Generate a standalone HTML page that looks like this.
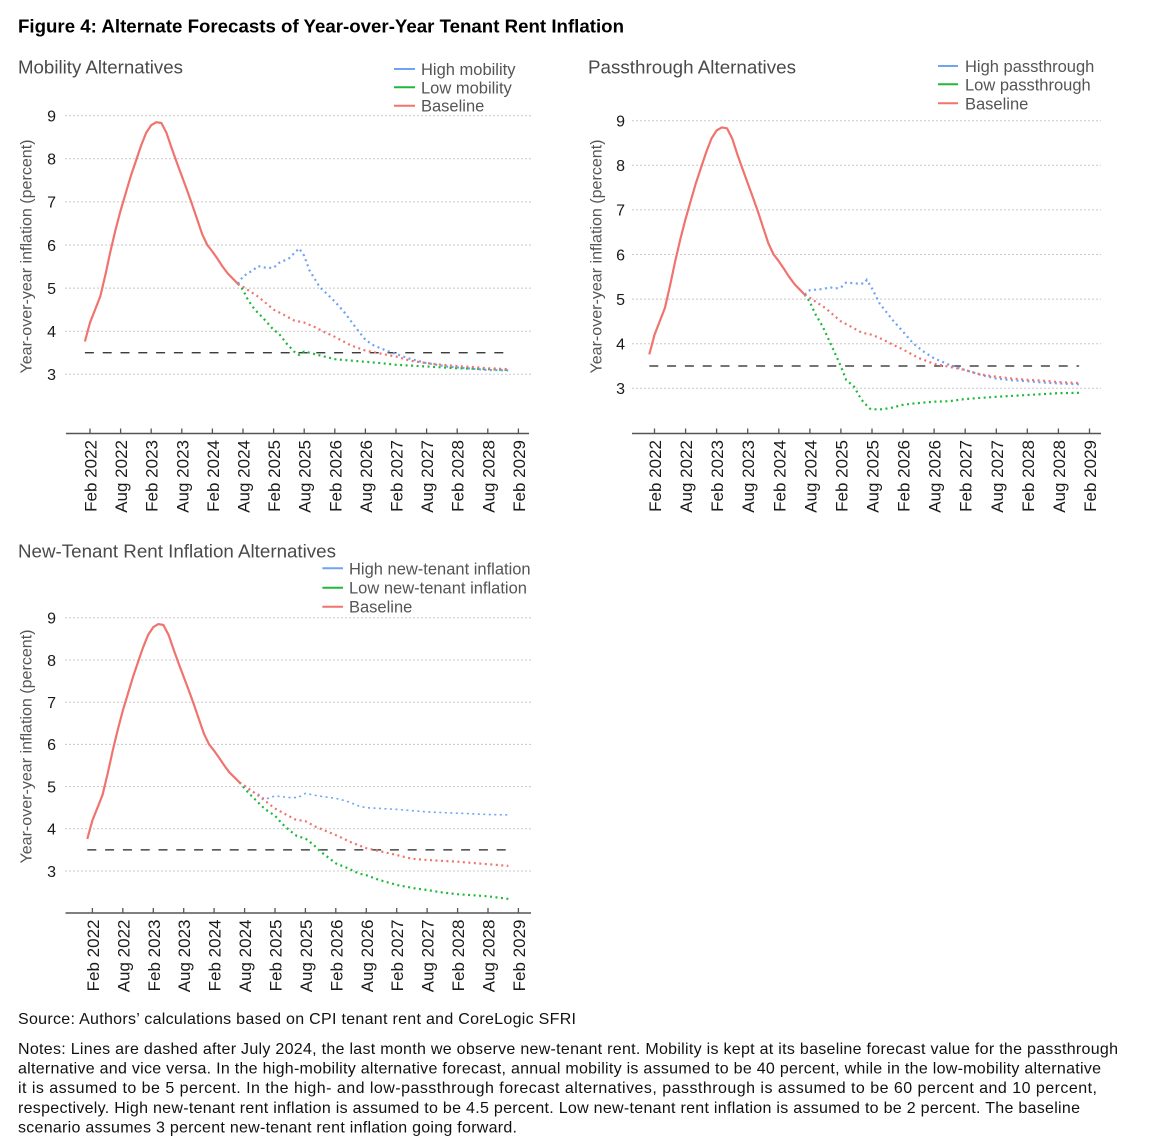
<!DOCTYPE html>
<html>
<head>
<meta charset="utf-8">
<style>
html,body{margin:0;padding:0;background:#fff;}
svg{display:block;}
text{font-family:"Liberation Sans",Arial,sans-serif;}
.tk{font-size:16px;fill:#1a1a1a;}
.xl{font-size:17px;fill:#1a1a1a;}
.yt{font-size:16px;fill:#555;}
.st{font-size:18px;fill:#4a4a4a;}
.lg{font-size:16.5px;fill:#555;}
.nt{font-size:16px;fill:#111;}
.grid{stroke:#c8c8c8;stroke-width:1;stroke-dasharray:2 2;}
.axis{stroke:#555;stroke-width:1.5;}
.tick{stroke:#555;stroke-width:1.3;}
.ref{stroke:#222;stroke-width:1.2;stroke-dasharray:9 8.8;fill:none;}
.hist{fill:none;stroke:#F0736E;stroke-width:2.2;stroke-linejoin:round;}
.fr{fill:none;stroke:#F0736E;stroke-width:2.2;stroke-dasharray:2 3.5;}
.fb{fill:none;stroke:#6FA3F5;stroke-width:2.2;stroke-dasharray:2 3.5;}
.fg{fill:none;stroke:#1FB83B;stroke-width:2.2;stroke-dasharray:2 3.5;}
.fbt{fill:none;stroke:#6FA3F5;stroke-width:1.6;stroke-dasharray:2 3.5;}
</style>
</head>
<body>
<svg width="1151" height="1144" viewBox="0 0 1151 1144" xmlns="http://www.w3.org/2000/svg">
<rect width="1151" height="1144" fill="#fff"/>

<text x="18" y="32.5" font-size="18" font-weight="bold" fill="#000" textLength="606" lengthAdjust="spacingAndGlyphs">Figure 4: Alternate Forecasts of Year-over-Year Tenant Rent Inflation</text>

<!-- ================= CHART A ================= -->
<text class="st" x="18" y="73.5" textLength="165" lengthAdjust="spacingAndGlyphs">Mobility Alternatives</text>
<line x1="394" y1="69" x2="415" y2="69" stroke="#6FA3F5" stroke-width="2"/>
<line x1="394" y1="87.3" x2="415" y2="87.3" stroke="#1FB83B" stroke-width="2"/>
<line x1="394" y1="105.7" x2="415" y2="105.7" stroke="#F0736E" stroke-width="2"/>
<text class="lg" x="421" y="75">High mobility</text>
<text class="lg" x="421" y="93.3">Low mobility</text>
<text class="lg" x="421" y="111.7">Baseline</text>

<g>
<line class="grid" x1="65" y1="115.7" x2="531" y2="115.7"/>
<line class="grid" x1="65" y1="158.8" x2="531" y2="158.8"/>
<line class="grid" x1="65" y1="201.9" x2="531" y2="201.9"/>
<line class="grid" x1="65" y1="245" x2="531" y2="245"/>
<line class="grid" x1="65" y1="288.1" x2="531" y2="288.1"/>
<line class="grid" x1="65" y1="331.2" x2="531" y2="331.2"/>
<line class="grid" x1="65" y1="374.3" x2="531" y2="374.3"/>
</g>
<g class="tk" text-anchor="end">
<text x="56" y="121.5">9</text><text x="56" y="164.6">8</text><text x="56" y="207.7">7</text><text x="56" y="250.8">6</text><text x="56" y="293.9">5</text><text x="56" y="337">4</text><text x="56" y="380.1">3</text>
</g>
<text class="yt" transform="translate(31.5,256.5) rotate(-90)" text-anchor="middle" textLength="234" lengthAdjust="spacingAndGlyphs">Year-over-year inflation (percent)</text>

<line class="axis" x1="66" y1="433.5" x2="529" y2="433.5"/>
<g class="tick">
<line x1="90" y1="428.5" x2="90" y2="433.5"/><line x1="120.6" y1="428.5" x2="120.6" y2="433.5"/><line x1="151.2" y1="428.5" x2="151.2" y2="433.5"/><line x1="181.8" y1="428.5" x2="181.8" y2="433.5"/><line x1="212.4" y1="428.5" x2="212.4" y2="433.5"/><line x1="243" y1="428.5" x2="243" y2="433.5"/><line x1="273.6" y1="428.5" x2="273.6" y2="433.5"/><line x1="304.2" y1="428.5" x2="304.2" y2="433.5"/><line x1="334.8" y1="428.5" x2="334.8" y2="433.5"/><line x1="365.4" y1="428.5" x2="365.4" y2="433.5"/><line x1="396" y1="428.5" x2="396" y2="433.5"/><line x1="426.6" y1="428.5" x2="426.6" y2="433.5"/><line x1="457.2" y1="428.5" x2="457.2" y2="433.5"/><line x1="487.8" y1="428.5" x2="487.8" y2="433.5"/><line x1="518.4" y1="428.5" x2="518.4" y2="433.5"/>
</g>
<g class="xl" text-anchor="end">
<text transform="translate(96.5,440) rotate(-90)">Feb 2022</text>
<text transform="translate(127.1,440) rotate(-90)">Aug 2022</text>
<text transform="translate(157.7,440) rotate(-90)">Feb 2023</text>
<text transform="translate(188.3,440) rotate(-90)">Aug 2023</text>
<text transform="translate(218.9,440) rotate(-90)">Feb 2024</text>
<text transform="translate(249.5,440) rotate(-90)">Aug 2024</text>
<text transform="translate(280.1,440) rotate(-90)">Feb 2025</text>
<text transform="translate(310.7,440) rotate(-90)">Aug 2025</text>
<text transform="translate(341.3,440) rotate(-90)">Feb 2026</text>
<text transform="translate(371.9,440) rotate(-90)">Aug 2026</text>
<text transform="translate(402.5,440) rotate(-90)">Feb 2027</text>
<text transform="translate(433.1,440) rotate(-90)">Aug 2027</text>
<text transform="translate(463.7,440) rotate(-90)">Feb 2028</text>
<text transform="translate(494.3,440) rotate(-90)">Aug 2028</text>
<text transform="translate(524.9,440) rotate(-90)">Feb 2029</text>
</g>

<line class="ref" x1="84.9" y1="352.75" x2="508.2" y2="352.75"/>
<polyline class="hist" points="84.9,341.5 90,322.6 95.1,309.6 100.2,296.7 105.3,275.2 110.4,251.5 115.5,229.9 120.6,210.5 125.7,193.3 130.8,176 135.9,161 141,145.9 146.1,132.9 151.2,125.2 156.3,122.2 161.4,123 166.5,132.9 171.6,148 176.7,162.3 181.8,176 186.9,189.8 192,204.1 197.1,219.1 202.2,234.2 207.3,245 212.4,251.5 217.5,258.8 222.6,266.6 227.7,273.4 232.8,278.6 237.9,283.8"/>
<polyline class="fb" points="237.9,283.8 243,276.5 253.2,270 258.3,266.1 265.9,267.8 273.6,267.8 278.7,263.1 288.9,258.4 299.1,248.4 304.2,255.8 309.3,270 319.5,286.8 334.8,301.5 345,313.1 355.2,326.9 365.4,339.8 373,345 380.7,348.4 396,354 411.3,359.2 426.6,363.1 447,366.5 467.4,368.3 487.8,370 508.2,370.4"/>
<polyline class="fg" points="237.9,283.8 243,289.8 248.1,300.2 255.2,310.1 263.4,318.3 273.6,329.9 278.7,333.4 286.4,343.3 294,351.5 299.1,354.9 304.2,351.5 314.4,354 324.6,356.6 334.8,359.2 345,360.1 365.4,361.8 380.7,363.1 396,364.8 426.6,366.5 457.2,368.3 487.8,369.1 508.2,370"/>
<polyline class="fr" points="237.9,283.8 243,286.8 258.3,296.7 273.6,309.6 283.8,314.8 294,320.4 304.2,322.6 314.4,326.9 324.6,332.1 334.8,336.8 350.1,345 365.4,350.6 380.7,353.6 396,356.6 411.3,360.9 426.6,363.1 441.9,364.8 457.2,366.1 472.5,367 487.8,368.3 508.2,369.1"/>

<!-- ================= CHART B ================= -->
<text class="st" x="588" y="73.5" textLength="208" lengthAdjust="spacingAndGlyphs">Passthrough Alternatives</text>
<line x1="938" y1="66" x2="958" y2="66" stroke="#6FA3F5" stroke-width="2"/>
<line x1="938" y1="84.3" x2="958" y2="84.3" stroke="#1FB83B" stroke-width="2"/>
<line x1="938" y1="103.3" x2="958" y2="103.3" stroke="#F0736E" stroke-width="2"/>
<text class="lg" x="965" y="72">High passthrough</text>
<text class="lg" x="965" y="90.3">Low passthrough</text>
<text class="lg" x="965" y="109.3">Baseline</text>

<g>
<line class="grid" x1="632" y1="120.7" x2="1101" y2="120.7"/>
<line class="grid" x1="632" y1="165.3" x2="1101" y2="165.3"/>
<line class="grid" x1="632" y1="209.9" x2="1101" y2="209.9"/>
<line class="grid" x1="632" y1="254.5" x2="1101" y2="254.5"/>
<line class="grid" x1="632" y1="299.1" x2="1101" y2="299.1"/>
<line class="grid" x1="632" y1="343.7" x2="1101" y2="343.7"/>
<line class="grid" x1="632" y1="388.3" x2="1101" y2="388.3"/>
</g>
<g class="tk" text-anchor="end">
<text x="625" y="126.5">9</text><text x="625" y="171.1">8</text><text x="625" y="215.7">7</text><text x="625" y="260.3">6</text><text x="625" y="304.9">5</text><text x="625" y="349.5">4</text><text x="625" y="394.1">3</text>
</g>
<text class="yt" transform="translate(601.5,256.5) rotate(-90)" text-anchor="middle" textLength="234" lengthAdjust="spacingAndGlyphs">Year-over-year inflation (percent)</text>

<line class="axis" x1="632" y1="433.5" x2="1101" y2="433.5"/>
<g class="tick">
<line x1="654.5" y1="428.5" x2="654.5" y2="433.5"/><line x1="685.6" y1="428.5" x2="685.6" y2="433.5"/><line x1="716.6" y1="428.5" x2="716.6" y2="433.5"/><line x1="747.7" y1="428.5" x2="747.7" y2="433.5"/><line x1="778.8" y1="428.5" x2="778.8" y2="433.5"/><line x1="809.9" y1="428.5" x2="809.9" y2="433.5"/><line x1="840.9" y1="428.5" x2="840.9" y2="433.5"/><line x1="872" y1="428.5" x2="872" y2="433.5"/><line x1="903.1" y1="428.5" x2="903.1" y2="433.5"/><line x1="934.1" y1="428.5" x2="934.1" y2="433.5"/><line x1="965.2" y1="428.5" x2="965.2" y2="433.5"/><line x1="996.3" y1="428.5" x2="996.3" y2="433.5"/><line x1="1027.3" y1="428.5" x2="1027.3" y2="433.5"/><line x1="1058.4" y1="428.5" x2="1058.4" y2="433.5"/><line x1="1089.5" y1="428.5" x2="1089.5" y2="433.5"/>
</g>
<g class="xl" text-anchor="end">
<text transform="translate(661,440) rotate(-90)">Feb 2022</text>
<text transform="translate(692.1,440) rotate(-90)">Aug 2022</text>
<text transform="translate(723.1,440) rotate(-90)">Feb 2023</text>
<text transform="translate(754.2,440) rotate(-90)">Aug 2023</text>
<text transform="translate(785.3,440) rotate(-90)">Feb 2024</text>
<text transform="translate(816.4,440) rotate(-90)">Aug 2024</text>
<text transform="translate(847.4,440) rotate(-90)">Feb 2025</text>
<text transform="translate(878.5,440) rotate(-90)">Aug 2025</text>
<text transform="translate(909.6,440) rotate(-90)">Feb 2026</text>
<text transform="translate(940.6,440) rotate(-90)">Aug 2026</text>
<text transform="translate(971.7,440) rotate(-90)">Feb 2027</text>
<text transform="translate(1002.8,440) rotate(-90)">Aug 2027</text>
<text transform="translate(1033.8,440) rotate(-90)">Feb 2028</text>
<text transform="translate(1064.9,440) rotate(-90)">Aug 2028</text>
<text transform="translate(1096,440) rotate(-90)">Feb 2029</text>
</g>

<line class="ref" x1="649.3" y1="366" x2="1079.1" y2="366"/>
<polyline class="hist" points="649.3,354.4 654.5,334.8 659.7,321.4 664.9,308 670,285.7 675.2,261.2 680.4,238.9 685.6,218.8 690.7,201 695.9,183.1 701.1,167.5 706.3,151.9 711.5,138.5 716.6,130.5 721.8,127.4 727,128.3 732.2,138.5 737.3,154.2 742.5,168.9 747.7,183.1 752.9,197.4 758.1,212.1 763.2,227.7 768.4,243.4 773.6,254.5 778.8,261.2 783.9,268.8 789.1,276.8 794.3,283.9 799.5,289.3 804.7,294.6"/>
<polyline class="fb" points="804.7,294.6 809.8,290.2 820.2,289.3 830.6,287.5 835.7,288.4 840.9,287.5 846.1,282.6 856.4,283.5 864.2,283.5 866.8,279.9 872,288.4 879.7,303.6 892.7,320.1 903,331.7 913.4,343.7 923.8,351.7 934.1,358.4 941.9,361.5 949.6,365.1 965.2,370 980.7,374.9 996.2,378.5 1011.8,380.3 1027.3,381.2 1042.9,382.5 1058.4,383.4 1079.1,384.3"/>
<polyline class="fg" points="804.7,294.6 809.8,301.8 815,313.4 822.8,326.8 830.6,343.7 840.9,366.4 846.1,379.8 853.9,386.5 861.6,399.9 869.4,408.4 872,409.3 882.3,409.3 892.7,407.5 903,404.8 913.4,403.5 934.1,401.7 949.6,401.2 965.2,399 996.2,396.8 1027.3,395 1058.4,393.2 1079.1,392.8"/>
<polyline class="fr" points="804.7,294.6 809.8,297.8 825.4,308 840.9,321.4 851.3,326.8 861.6,332.6 872,334.8 882.3,339.2 892.7,344.6 903,349.5 918.6,358 934.1,363.8 949.6,366.9 965.2,370 980.7,374.5 996.2,376.7 1011.8,378.5 1027.3,379.8 1042.9,380.7 1058.4,382.1 1079.1,383"/>

<!-- ================= CHART C ================= -->
<text class="st" x="18" y="557.5" textLength="318" lengthAdjust="spacingAndGlyphs">New-Tenant Rent Inflation Alternatives</text>
<line x1="322.4" y1="568.3" x2="343" y2="568.3" stroke="#6FA3F5" stroke-width="2"/>
<line x1="322.4" y1="587.7" x2="343" y2="587.7" stroke="#1FB83B" stroke-width="2"/>
<line x1="322.4" y1="606.7" x2="343" y2="606.7" stroke="#F0736E" stroke-width="2"/>
<text class="lg" x="349" y="574.3">High new-tenant inflation</text>
<text class="lg" x="349" y="593.7">Low new-tenant inflation</text>
<text class="lg" x="349" y="612.7">Baseline</text>

<g>
<line class="grid" x1="65" y1="617.8" x2="531" y2="617.8"/>
<line class="grid" x1="65" y1="660" x2="531" y2="660"/>
<line class="grid" x1="65" y1="702.2" x2="531" y2="702.2"/>
<line class="grid" x1="65" y1="744.4" x2="531" y2="744.4"/>
<line class="grid" x1="65" y1="786.6" x2="531" y2="786.6"/>
<line class="grid" x1="65" y1="828.8" x2="531" y2="828.8"/>
<line class="grid" x1="65" y1="871" x2="531" y2="871"/>
</g>
<g class="tk" text-anchor="end">
<text x="56" y="623.6">9</text><text x="56" y="665.8">8</text><text x="56" y="708">7</text><text x="56" y="750.2">6</text><text x="56" y="792.4">5</text><text x="56" y="834.6">4</text><text x="56" y="876.8">3</text>
</g>
<text class="yt" transform="translate(31.5,746.5) rotate(-90)" text-anchor="middle" textLength="234" lengthAdjust="spacingAndGlyphs">Year-over-year inflation (percent)</text>

<line class="axis" x1="65.5" y1="913" x2="531" y2="913"/>
<g class="tick">
<line x1="92.4" y1="908" x2="92.4" y2="913"/><line x1="122.8" y1="908" x2="122.8" y2="913"/><line x1="153.3" y1="908" x2="153.3" y2="913"/><line x1="183.7" y1="908" x2="183.7" y2="913"/><line x1="214.1" y1="908" x2="214.1" y2="913"/><line x1="244.6" y1="908" x2="244.6" y2="913"/><line x1="275" y1="908" x2="275" y2="913"/><line x1="305.4" y1="908" x2="305.4" y2="913"/><line x1="335.8" y1="908" x2="335.8" y2="913"/><line x1="366.3" y1="908" x2="366.3" y2="913"/><line x1="396.7" y1="908" x2="396.7" y2="913"/><line x1="427.1" y1="908" x2="427.1" y2="913"/><line x1="457.6" y1="908" x2="457.6" y2="913"/><line x1="488" y1="908" x2="488" y2="913"/><line x1="518.4" y1="908" x2="518.4" y2="913"/>
</g>
<g class="xl" text-anchor="end">
<text transform="translate(98.9,919.5) rotate(-90)">Feb 2022</text>
<text transform="translate(129.3,919.5) rotate(-90)">Aug 2022</text>
<text transform="translate(159.8,919.5) rotate(-90)">Feb 2023</text>
<text transform="translate(190.2,919.5) rotate(-90)">Aug 2023</text>
<text transform="translate(220.6,919.5) rotate(-90)">Feb 2024</text>
<text transform="translate(251.1,919.5) rotate(-90)">Aug 2024</text>
<text transform="translate(281.5,919.5) rotate(-90)">Feb 2025</text>
<text transform="translate(311.9,919.5) rotate(-90)">Aug 2025</text>
<text transform="translate(342.3,919.5) rotate(-90)">Feb 2026</text>
<text transform="translate(372.8,919.5) rotate(-90)">Aug 2026</text>
<text transform="translate(403.2,919.5) rotate(-90)">Feb 2027</text>
<text transform="translate(433.6,919.5) rotate(-90)">Aug 2027</text>
<text transform="translate(464.1,919.5) rotate(-90)">Feb 2028</text>
<text transform="translate(494.5,919.5) rotate(-90)">Aug 2028</text>
<text transform="translate(524.9,919.5) rotate(-90)">Feb 2029</text>
</g>

<line class="ref" x1="87.3" y1="849.9" x2="508.3" y2="849.9"/>
<polyline class="hist" points="87.3,838.9 92.4,820.4 97.5,807.7 102.5,795 107.6,773.9 112.7,750.7 117.8,729.6 122.8,710.6 127.9,693.8 133,676.9 138,662.1 143.1,647.3 148.2,634.7 153.3,627.1 158.3,624.1 163.4,625 168.5,634.7 173.6,649.5 178.6,663.4 183.7,676.9 188.8,690.4 193.8,704.3 198.9,719.1 204,733.9 209.1,744.4 214.1,750.7 219.2,757.9 224.3,765.5 229.3,772.3 234.4,777.3 239.5,782.4"/>
<polyline class="fbt" points="239.5,782.4 247.1,789.1 258.3,794.2 264.8,799.3 275,795.9 290.2,797.6 297.8,797.6 305.4,793.4 318.1,795.9 335.9,798.4 346,801 358.7,806 366.3,807.7 381.5,808.5 396.7,809.4 427.2,811.9 457.6,813.2 488,814.5 508.3,814.9"/>
<polyline class="fg" points="239.5,782.4 248.1,792.5 258.3,802.6 264.8,809 275,815.7 282.6,824.2 290.2,830.9 296.8,836 305.4,838.5 313.5,844.8 320.6,851.6 335.9,863.4 348.5,868.5 358.7,873.5 366.3,875.2 379,879.9 396.7,884.9 414.5,888.3 427.2,890 442.4,892.5 457.6,894.2 488,896.3 508.3,898.9"/>
<polyline class="fr" points="239.5,782.4 244.6,785.8 259.8,796.7 275,808.5 285.1,814 295.3,819.5 305.4,821.2 315.6,826.7 325.7,830.9 335.9,835.1 351.1,842.3 366.3,848.2 381.5,851.6 396.7,855 411.9,858.8 427.2,860 442.4,860.9 457.6,861.7 472.8,863 488,864.2 508.3,865.9"/>

<!-- ================= NOTES ================= -->
<text class="nt" x="18" y="1024" textLength="558" lengthAdjust="spacing">Source: Authors’ calculations based on CPI tenant rent and CoreLogic SFRI</text>
<text class="nt" x="18" y="1054" textLength="1100" lengthAdjust="spacing">Notes: Lines are dashed after July 2024, the last month we observe new-tenant rent. Mobility is kept at its baseline forecast value for the passthrough</text>
<text class="nt" x="18" y="1073.6" textLength="1083" lengthAdjust="spacing">alternative and vice versa. In the high-mobility alternative forecast, annual mobility is assumed to be 40 percent, while in the low-mobility alternative</text>
<text class="nt" x="18" y="1093.2" textLength="1079" lengthAdjust="spacing">it is assumed to be 5 percent. In the high- and low-passthrough forecast alternatives, passthrough is assumed to be 60 percent and 10 percent,</text>
<text class="nt" x="18" y="1112.8" textLength="1062" lengthAdjust="spacing">respectively. High new-tenant rent inflation is assumed to be 4.5 percent. Low new-tenant rent inflation is assumed to be 2 percent. The baseline</text>
<text class="nt" x="18" y="1132.4" textLength="499" lengthAdjust="spacing">scenario assumes 3 percent new-tenant rent inflation going forward.</text>
</svg>
</body>
</html>
